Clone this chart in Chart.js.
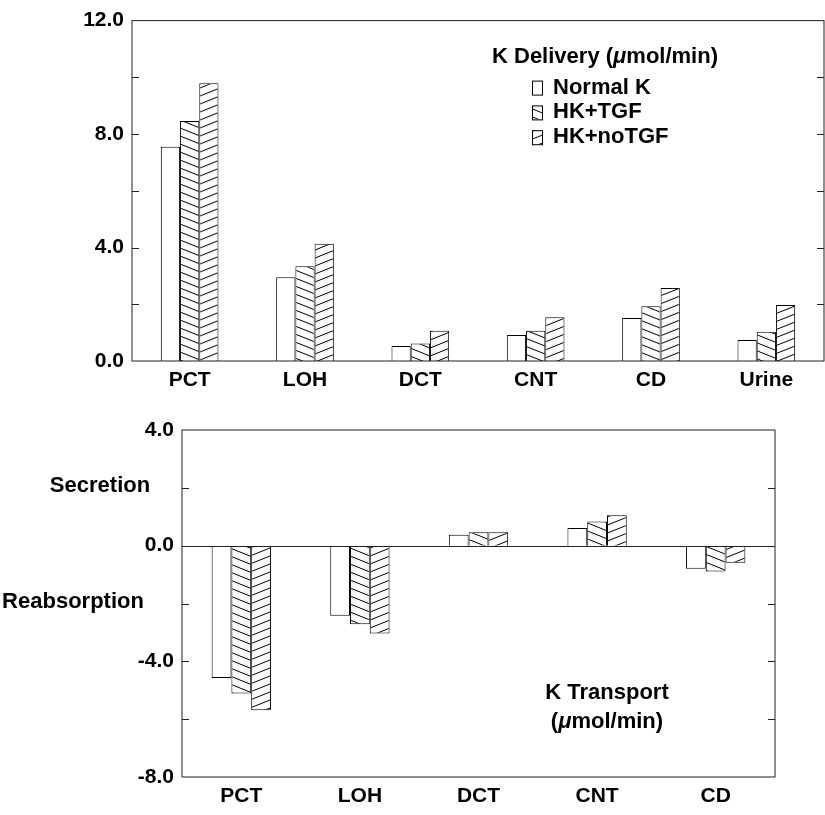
<!DOCTYPE html>
<html>
<head>
<meta charset="utf-8">
<script src="https://cdn.jsdelivr.net/npm/chart.js@4/dist/chart.umd.min.js"></script>
<style>
	body { margin: 0; background: white; }
	canvas { position: absolute; left: 0; }
	#deliveryChart { top: 0; }
	#transportChart { top: 400px; }
</style>
</head>
<body>
<canvas id="deliveryChart" width="825" height="400"></canvas>
<canvas id="transportChart" width="825" height="415"></canvas>
<script>
const FONT = '"Liberation Sans", Arial, Helvetica, sans-serif';
const NOTE_SIZE = 22;
const TICK_SIZE = 21;

const seriesNames = ['Normal K', 'HK+TGF', 'HK+noTGF'];

// K delivery (umol/min) at the end of each segment
const deliverySegments = ['PCT', 'LOH', 'DCT', 'CNT', 'CD', 'Urine'];
const deliveryNormal = [7.55, 2.95, 0.53, 0.92, 1.52, 0.74];
const deliveryTGF = [8.46, 3.34, 0.62, 1.07, 1.93, 1.03];
const deliveryNoTGF = [9.79, 4.13, 1.07, 1.54, 2.57, 1.97];

// K transport (umol/min), secretion positive, reabsorption negative
const transportSegments = ['PCT', 'LOH', 'DCT', 'CNT', 'CD'];
const transportNormal = [-4.58, -2.42, 0.38, 0.61, -0.80];
const transportTGF = [-5.11, -2.72, 0.46, 0.84, -0.89];
const transportNoTGF = [-5.69, -3.04, 0.46, 1.05, -0.59];

function makeHatch(ctx, dir) {
	var tile = document.createElement('canvas');
	tile.width = 20;
	tile.height = 8;
	var c = tile.getContext('2d');
	c.fillStyle = 'white';
	c.fillRect(0, 0, 20, 8);
	c.strokeStyle = 'black';
	c.lineWidth = 1;
	c.beginPath();
	for (var k = -1; k <= 1; k++) {
		if (dir === 'down') {
			c.moveTo(0, k * 8);
			c.lineTo(20, k * 8 + 8);
		} else {
			c.moveTo(0, k * 8 + 8);
			c.lineTo(20, k * 8);
		}
	}
	c.stroke();
	return ctx.createPattern(tile, 'repeat');
}

function drawRich(ctx, parts, x, y, align) {
	var total = 0;
	parts.forEach((p) => {
		ctx.font = (p.italic ? 'italic ' : '') + 'bold ' + NOTE_SIZE + 'px ' + FONT;
		p.w = ctx.measureText(p.text).width;
		total += p.w;
	});
	var cx = align === 'center' ? x - total / 2 : x;
	ctx.textAlign = 'left';
	ctx.textBaseline = 'middle';
	ctx.fillStyle = 'black';
	parts.forEach((p) => {
		ctx.font = (p.italic ? 'italic ' : '') + 'bold ' + NOTE_SIZE + 'px ' + FONT;
		ctx.fillText(p.text, cx, y);
		cx += p.w;
	});
}

function unitParts(prefix) {
	return [{ text: prefix + '(' }, { text: 'μ', italic: true }, { text: 'mol/min)' }];
}

// box around the plot with inward ticks on both sides
const framePlugin = {
	id: 'frame',
	afterDatasetsDraw(chart) {
		var ctx = chart.ctx;
		var ca = chart.chartArea;
		var y = chart.scales.y;
		ctx.save();
		ctx.strokeStyle = '#222';
		ctx.lineWidth = 1;
		ctx.strokeRect(ca.left, ca.top, ca.right - ca.left, ca.bottom - ca.top);
		ctx.beginPath();
		y.ticks.forEach((t) => {
			if (t.value === y.min || t.value === y.max) return;
			var py = Math.round(y.getPixelForValue(t.value)) + 0.5;
			if (t.value === 0) {
				ctx.moveTo(ca.left, py);
				ctx.lineTo(ca.right, py);
			} else {
				ctx.moveTo(ca.left, py);
				ctx.lineTo(ca.left + 7, py);
				ctx.moveTo(ca.right - 7, py);
				ctx.lineTo(ca.right, py);
			}
		});
		ctx.stroke();
		ctx.restore();
	}
};

const deliveryLegend = {
	id: 'deliveryLegend',
	afterDraw(chart) {
		var ctx = chart.ctx;
		var ca = chart.chartArea;
		ctx.save();
		drawRich(ctx, unitParts('K Delivery '), ca.left + 360, ca.top + 36, 'left');
		chart.data.datasets.forEach((ds, i) => {
			var cy = ca.top + 67 + i * 24.8;
			ctx.fillStyle = ds.backgroundColor;
			ctx.fillRect(ca.left + 400, cy - 7, 10, 14);
			ctx.strokeStyle = 'black';
			ctx.lineWidth = 1;
			ctx.strokeRect(ca.left + 400.5, cy - 6.5, 10, 14);
			ctx.fillStyle = 'black';
			ctx.font = 'bold ' + NOTE_SIZE + 'px ' + FONT;
			ctx.textAlign = 'left';
			ctx.textBaseline = 'middle';
			ctx.fillText(ds.label, ca.left + 421, cy);
		});
		ctx.restore();
	}
};

const transportNotes = {
	id: 'transportNotes',
	afterDraw(chart) {
		var ctx = chart.ctx;
		var ca = chart.chartArea;
		var y = chart.scales.y;
		ctx.save();
		ctx.fillStyle = 'black';
		ctx.font = 'bold ' + NOTE_SIZE + 'px ' + FONT;
		ctx.textAlign = 'center';
		ctx.textBaseline = 'middle';
		ctx.fillText('Secretion', 100, y.getPixelForValue(2) - 2);
		ctx.fillText('Reabsorption', 73, y.getPixelForValue(-2) - 2);
		ctx.fillText('K Transport', ca.left + 425, ca.top + 263);
		drawRich(ctx, unitParts(''), ca.left + 425, ca.top + 292, 'center');
		ctx.restore();
	}
};

function makeChart(canvasId, labels, values, yMin, yMax, axisWidth, axisHeight, padding, extraPlugin) {
	var ctx = document.getElementById(canvasId).getContext('2d');
	var fills = ['white', makeHatch(ctx, 'down'), makeHatch(ctx, 'up')];
	return new Chart(ctx, {
		type: 'bar',
		data: {
			labels: labels,
			datasets: values.map((v, i) => ({
				label: seriesNames[i],
				data: v,
				backgroundColor: fills[i],
				borderColor: 'black',
				borderWidth: 1,
				barPercentage: 1,
				categoryPercentage: 0.5
			}))
		},
		options: {
			responsive: false,
			animation: false,
			layout: { padding: padding },
			plugins: {
				legend: { display: false },
				tooltip: { enabled: false }
			},
			scales: {
				x: {
					grid: { display: false, drawTicks: false },
					border: { display: false },
					ticks: {
						color: 'black',
						padding: 7,
						font: { family: FONT, size: TICK_SIZE, weight: 'bold' }
					},
					afterFit: (scale) => { scale.height = axisHeight; }
				},
				y: {
					min: yMin,
					max: yMax,
					grid: { display: false, drawTicks: false },
					border: { display: false },
					ticks: {
						stepSize: 2,
						color: 'black',
						padding: 8,
						font: { family: FONT, size: TICK_SIZE, weight: 'bold' },
						callback: (v) => (v % 4 === 0 ? v.toFixed(1) : '')
					},
					afterFit: (scale) => { scale.width = axisWidth; }
				}
			}
		},
		plugins: [framePlugin, extraPlugin]
	});
}

window.onload = function () {
	makeChart('deliveryChart', deliverySegments,
		[deliveryNormal, deliveryTGF, deliveryNoTGF],
		0, 12, 132, 39, { top: 14, right: 1, left: 0, bottom: 0 }, deliveryLegend);
	makeChart('transportChart', transportSegments,
		[transportNormal, transportTGF, transportNoTGF],
		-8, 4, 182, 38, { top: 30, right: 50, left: 0, bottom: 0 }, transportNotes);
}
</script>
</body>
</html>
